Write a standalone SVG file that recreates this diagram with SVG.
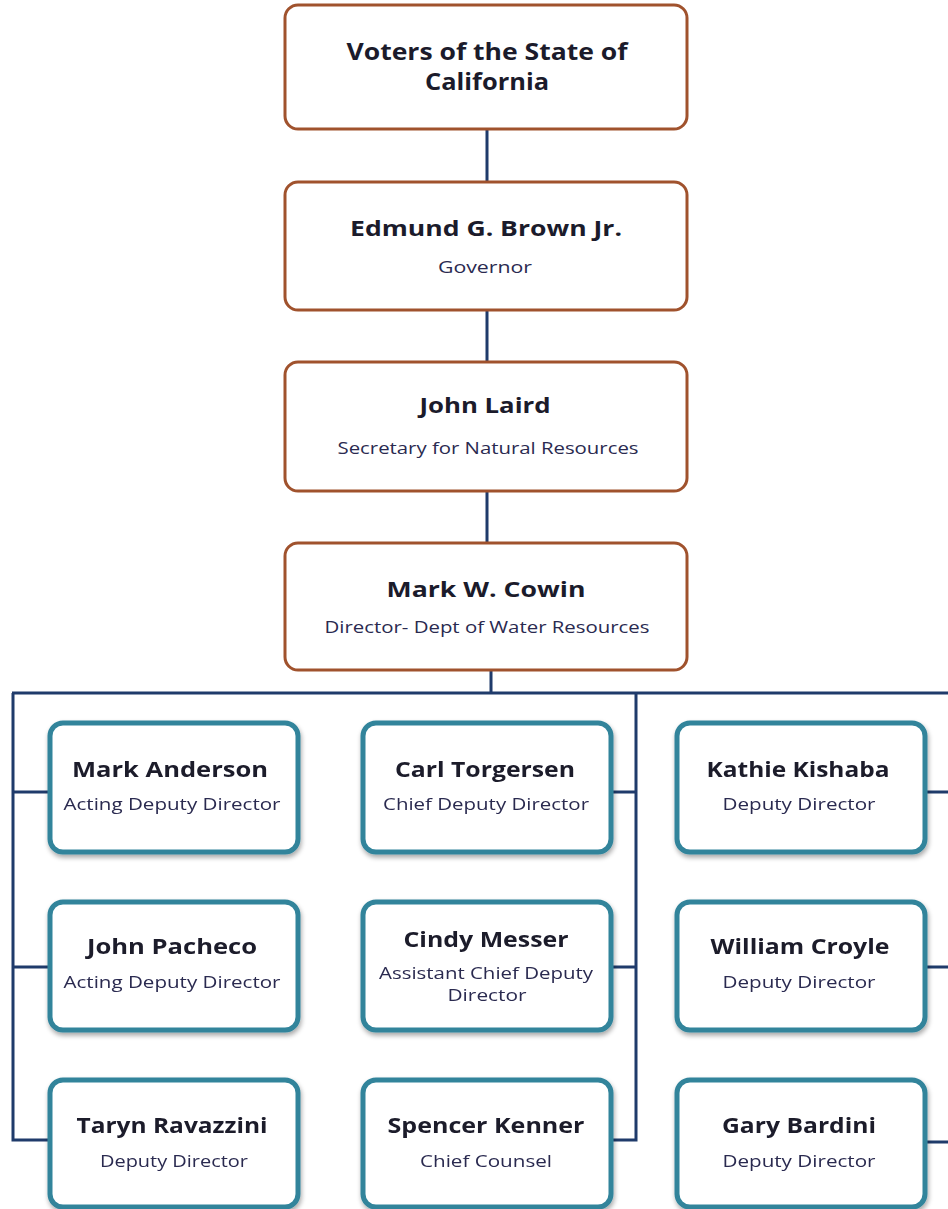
<svg xmlns="http://www.w3.org/2000/svg" width="948" height="1209" viewBox="0 0 948 1209">
<style>
.top{fill:#ffffff;stroke:#A0522D;stroke-width:3}
.sub{fill:#ffffff;stroke:#31849B;stroke-width:5}
.ln{fill:none;stroke:#1F3B6B;stroke-width:3}
text{font-family:"Open Sans","Liberation Sans",sans-serif;text-anchor:middle}
.nm{font-weight:bold;font-size:22px;fill:#1b1b2b}
.big{font-weight:bold;font-size:24px;fill:#1b1b2b}
.ti{font-size:16px;fill:#2a2a50}
</style>
<defs>
<filter id="sh" x="-10%" y="-10%" width="130%" height="130%">
<feGaussianBlur in="SourceAlpha" stdDeviation="2.5"/>
<feOffset dx="1" dy="3" result="b"/>
<feComponentTransfer><feFuncA type="linear" slope="0.35"/></feComponentTransfer>
<feMerge><feMergeNode/><feMergeNode in="SourceGraphic"/></feMerge>
</filter>
</defs>
<g id="connectors">
<path class="ln" d="M487,129V182M487,310V362M487,491V543"/>
<path class="ln" d="M491,670V693M12,693H948"/>
<path class="ln" d="M13,693V1140H50M13,792H50M13,967H50"/>
<path class="ln" d="M636,693V1140H612M612,792H636M612,967H636"/>
<path class="ln" d="M925,792H948M925,967H948M925,1142H948"/>
</g>
<g id="voters">
<rect class="top" x="285" y="5" width="402" height="124" rx="13"/>
<text class="big" x="487" y="60" textLength="281" lengthAdjust="spacingAndGlyphs">Voters of the State of</text>
<text class="big" x="487" y="90" textLength="124" lengthAdjust="spacingAndGlyphs">California</text>
</g>
<g id="brown">
<rect class="top" x="285" y="182" width="402" height="128" rx="13"/>
<text class="nm" x="486" y="236" textLength="272" lengthAdjust="spacingAndGlyphs">Edmund G. Brown Jr.</text>
<text class="ti" x="485" y="273" textLength="94" lengthAdjust="spacingAndGlyphs">Governor</text>
</g>
<g id="laird">
<rect class="top" x="285" y="362" width="402" height="129" rx="13"/>
<text class="nm" x="485" y="413" textLength="131" lengthAdjust="spacingAndGlyphs">John Laird</text>
<text class="ti" x="488" y="454" textLength="301" lengthAdjust="spacingAndGlyphs">Secretary for Natural Resources</text>
</g>
<g id="cowin">
<rect class="top" x="285" y="543" width="402" height="127" rx="13"/>
<text class="nm" x="486" y="597" textLength="199" lengthAdjust="spacingAndGlyphs">Mark W. Cowin</text>
<text class="ti" x="487" y="633" textLength="325" lengthAdjust="spacingAndGlyphs">Director- Dept of Water Resources</text>
</g>
<g id="anderson" filter="url(#sh)">
<rect class="sub" x="50" y="723" width="248" height="129" rx="13"/>
<text class="nm" x="170" y="777" textLength="196" lengthAdjust="spacingAndGlyphs">Mark Anderson</text>
<text class="ti" x="172" y="810" textLength="217" lengthAdjust="spacingAndGlyphs">Acting Deputy Director</text>
</g>
<g id="torgersen" filter="url(#sh)">
<rect class="sub" x="363" y="723" width="248" height="129" rx="13"/>
<text class="nm" x="485" y="777" textLength="180" lengthAdjust="spacingAndGlyphs">Carl Torgersen</text>
<text class="ti" x="486" y="810" textLength="206" lengthAdjust="spacingAndGlyphs">Chief Deputy Director</text>
</g>
<g id="kishaba" filter="url(#sh)">
<rect class="sub" x="677" y="723" width="248" height="129" rx="13"/>
<text class="nm" x="798" y="777" textLength="183" lengthAdjust="spacingAndGlyphs">Kathie Kishaba</text>
<text class="ti" x="799" y="810" textLength="153" lengthAdjust="spacingAndGlyphs">Deputy Director</text>
</g>
<g id="pacheco" filter="url(#sh)">
<rect class="sub" x="50" y="902" width="248" height="128" rx="13"/>
<text class="nm" x="172" y="954" textLength="170" lengthAdjust="spacingAndGlyphs">John Pacheco</text>
<text class="ti" x="172" y="988" textLength="217" lengthAdjust="spacingAndGlyphs">Acting Deputy Director</text>
</g>
<g id="messer" filter="url(#sh)">
<rect class="sub" x="363" y="902" width="248" height="128" rx="13"/>
<text class="nm" x="486" y="947" textLength="165" lengthAdjust="spacingAndGlyphs">Cindy Messer</text>
<text class="ti" x="486" y="979" textLength="214" lengthAdjust="spacingAndGlyphs">Assistant Chief Deputy</text>
<text class="ti" x="487" y="1001" textLength="79" lengthAdjust="spacingAndGlyphs">Director</text>
</g>
<g id="croyle" filter="url(#sh)">
<rect class="sub" x="677" y="902" width="248" height="128" rx="13"/>
<text class="nm" x="800" y="954" textLength="179" lengthAdjust="spacingAndGlyphs">William  Croyle</text>
<text class="ti" x="799" y="988" textLength="153" lengthAdjust="spacingAndGlyphs">Deputy Director</text>
</g>
<g id="ravazzini" filter="url(#sh)">
<rect class="sub" x="50" y="1080" width="248" height="127" rx="13"/>
<text class="nm" x="172" y="1133" textLength="191" lengthAdjust="spacingAndGlyphs">Taryn Ravazzini</text>
<text class="ti" x="174" y="1167" textLength="148" lengthAdjust="spacingAndGlyphs">Deputy Director</text>
</g>
<g id="kenner" filter="url(#sh)">
<rect class="sub" x="363" y="1080" width="248" height="127" rx="13"/>
<text class="nm" x="486" y="1133" textLength="197" lengthAdjust="spacingAndGlyphs">Spencer Kenner</text>
<text class="ti" x="486" y="1167" textLength="132" lengthAdjust="spacingAndGlyphs">Chief Counsel</text>
</g>
<g id="bardini" filter="url(#sh)">
<rect class="sub" x="677" y="1080" width="248" height="127" rx="13"/>
<text class="nm" x="799" y="1133" textLength="154" lengthAdjust="spacingAndGlyphs">Gary Bardini</text>
<text class="ti" x="799" y="1167" textLength="153" lengthAdjust="spacingAndGlyphs">Deputy Director</text>
</g>
</svg>
